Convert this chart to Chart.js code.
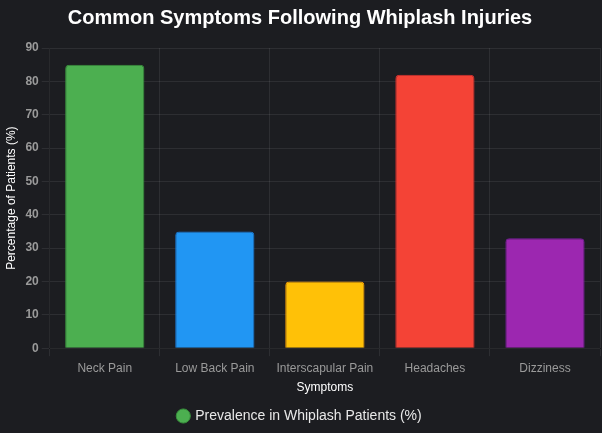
<!DOCTYPE html>
<html>
<head>
<meta charset="utf-8">
<script src="https://cdn.jsdelivr.net/npm/chart.js@4.4.0/dist/chart.umd.min.js"></script>
<style>
  html, body { margin: 0; padding: 0; background: #1c1d21; }
  #wrap { width: 602px; height: 433px; }
</style>
</head>
<body>
<div id="wrap"><canvas id="chart"></canvas></div>
<script>
const symptoms = ['Neck Pain', 'Low Back Pain', 'Interscapular Pain', 'Headaches', 'Dizziness'];
const prevalence = [85, 35, 20, 82, 33];
const barColors = ['#4CAF50', '#2196F3', '#FFC107', '#F44336', '#9C27B0'];
const barBorders = ['#388E3C', '#1976D2', '#FFA000', '#D32F2F', '#7B1FA2'];

Chart.defaults.font.family = '"Liberation Sans", Arial, sans-serif';

new Chart(document.getElementById('chart'), {
  type: 'bar',
  data: {
    labels: symptoms,
    datasets: [{
      label: 'Prevalence in Whiplash Patients (%)',
      data: prevalence,
      backgroundColor: barColors,
      borderColor: barBorders,
      borderWidth: 1,
      borderRadius: 4
    }]
  },
  options: {
    responsive: true,
    maintainAspectRatio: false,
    animation: false,
    layout: { padding: { left: 0, right: 2, top: 0, bottom: 0 } },
    plugins: {
      title: {
        display: true,
        text: 'Common Symptoms Following Whiplash Injuries',
        color: '#ffffff',
        font: { size: 20, weight: 'bold' },
        padding: { top: 6, bottom: 18 }
      },
      legend: {
        position: 'bottom',
        labels: {
          color: '#e8e8e8',
          usePointStyle: true,
          pointStyle: 'circle',
          boxWidth: 10,
          boxHeight: 10,
          font: { size: 14 },
          padding: 12
        }
      }
    },
    scales: {
      x: {
        title: { display: true, text: 'Symptoms', color: '#ffffff', font: { size: 12 }, padding: { top: 0, bottom: 2 } },
        ticks: { color: '#9a9a9a', font: { size: 12 }, padding: 5 },
        grid: { color: 'rgba(255,255,255,0.08)' }
      },
      y: {
        min: 0,
        max: 90,
        ticks: { stepSize: 10, color: '#9a9a9a', font: { size: 12, weight: 'bold' } },
        title: { display: true, text: 'Percentage of Patients (%)', color: '#ffffff', font: { size: 12 } },
        grid: { color: 'rgba(255,255,255,0.08)' }
      }
    }
  }
});
</script>
</body>
</html>
